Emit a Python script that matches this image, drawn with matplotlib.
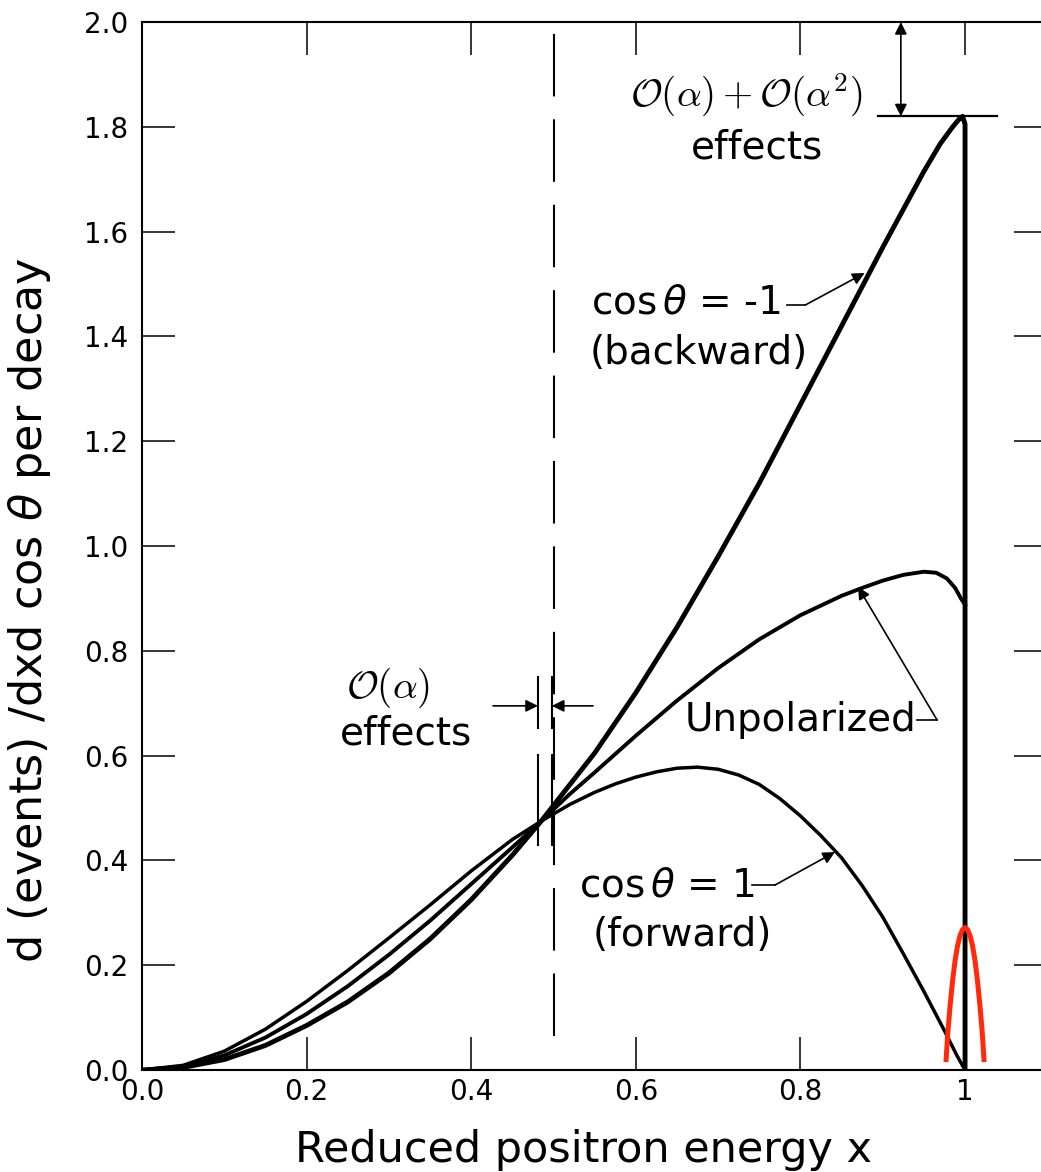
import matplotlib
matplotlib.use("Agg")
import matplotlib.pyplot as plt

# spectrum (x = reduced positron energy)
x_forward = [0.0, 0.05, 0.1, 0.15, 0.2, 0.25, 0.3, 0.35, 0.4, 0.45, 0.485, 0.52, 0.55, 0.575, 0.6,
             0.625, 0.65, 0.675, 0.7, 0.725, 0.75, 0.775, 0.8, 0.825, 0.85, 0.875, 0.9, 0.925, 0.95,
             0.975, 0.99, 1.0]
y_forward = [0.0, 0.009, 0.036, 0.078, 0.131, 0.19, 0.252, 0.315, 0.38, 0.44, 0.475, 0.507, 0.53, 0.546, 0.559,
             0.569, 0.576, 0.578, 0.574, 0.563, 0.545, 0.518, 0.485, 0.447, 0.405, 0.352, 0.292, 0.222, 0.15,
             0.075, 0.028, 0.0]

x_unpolarized = [0.0, 0.05, 0.1, 0.15, 0.2, 0.25, 0.3, 0.35, 0.4, 0.45, 0.485, 0.52, 0.55, 0.6,
                 0.65, 0.7, 0.75, 0.8, 0.85, 0.875, 0.9, 0.925, 0.95, 0.965, 0.978, 0.988, 0.995, 1.0]
y_unpolarized = [0.0, 0.007, 0.028, 0.062, 0.107, 0.16, 0.22, 0.285, 0.355, 0.425, 0.475, 0.527, 0.568, 0.638,
                 0.705, 0.767, 0.822, 0.868, 0.905, 0.92, 0.934, 0.945, 0.951, 0.949, 0.938, 0.92, 0.9, 0.888]

x_backward = [0.0, 0.05, 0.1, 0.15, 0.2, 0.25, 0.3, 0.35, 0.4, 0.45, 0.485, 0.52, 0.55, 0.6,
              0.65, 0.7, 0.75, 0.8, 0.85, 0.9, 0.95, 0.97, 0.985, 0.993, 0.997, 1.0, 1.0]
y_backward = [0.0, 0.005, 0.02, 0.047, 0.085, 0.13, 0.185, 0.25, 0.325, 0.41, 0.475, 0.545, 0.605, 0.72,
              0.845, 0.98, 1.12, 1.27, 1.42, 1.57, 1.715, 1.768, 1.8, 1.815, 1.82, 1.805, 0.0]

x_red = [0.977, 0.979, 0.982, 0.985, 0.988, 0.991, 0.994, 0.997, 1.0,
         1.003, 1.006, 1.009, 1.012, 1.015, 1.018, 1.021, 1.023]
y_red = [0.02, 0.07, 0.125, 0.172, 0.21, 0.238, 0.257, 0.268, 0.272,
         0.268, 0.257, 0.238, 0.21, 0.172, 0.125, 0.07, 0.02]

x_ticks = [0.0, 0.2, 0.4, 0.6, 0.8, 1.0]
x_tick_labels = ["0.0", "0.2", "0.4", "0.6", "0.8", "1"]
y_ticks = [0.0, 0.2, 0.4, 0.6, 0.8, 1.0, 1.2, 1.4, 1.6, 1.8, 2.0]
y_tick_labels = ["0.0", "0.2", "0.4", "0.6", "0.8", "1.0", "1.2", "1.4", "1.6", "1.8", "2.0"]

peak_value = 1.82
split_x = 0.5
alpha_edge = 0.481

fig = plt.figure(figsize=(10.41, 11.72), dpi=100)
ax = fig.add_axes([0.1364, 0.087, 0.8697, 0.8942])

ax.plot(x_backward, y_backward, color="black", linewidth=3.5, solid_capstyle="round", solid_joinstyle="round")
ax.plot(x_unpolarized, y_unpolarized, color="black", linewidth=2.8, solid_joinstyle="round")
ax.plot(x_forward, y_forward, color="black", linewidth=2.5, solid_joinstyle="round")
ax.plot(x_red, y_red, color="#ff2a0a", linewidth=3.6, zorder=5)

# dashed line at x = 1/2 and the O(alpha) markers
ax.plot([split_x, split_x], [0.065, 1.99], color="black", linewidth=1.5, linestyle=(0, (30, 11)))
for xv in [alpha_edge, split_x - 0.002]:
    ax.plot([xv, xv], [0.653, 0.750], color="black", linewidth=1.5)
    ax.plot([xv, xv], [0.429, 0.601], color="black", linewidth=1.5)

arrow = dict(arrowstyle="-|>", color="black", linewidth=1.2, mutation_scale=18, shrinkA=0, shrinkB=0)
ax.annotate("", xy=(alpha_edge, 0.695), xytext=(0.4265, 0.695), arrowprops=arrow)
ax.annotate("", xy=(0.498, 0.695), xytext=(0.548, 0.695), arrowprops=arrow)

# top of spectrum marker
ax.plot([0.894, 1.039], [peak_value, peak_value], color="black", linewidth=1.6)
ax.annotate("", xy=(0.922, 2.0), xytext=(0.922, peak_value),
            arrowprops=dict(arrowstyle="<|-|>", color="black", linewidth=1.2, mutation_scale=18, shrinkA=0, shrinkB=0))

fs = 28
ax.text(0.734, 1.859, r"$\mathcal{O}(\alpha)+\mathcal{O}(\alpha^2)$", fontsize=fs, ha="center", va="center",
        math_fontfamily="cm")
ax.text(0.747, 1.761, "effects", fontsize=fs, ha="center", va="center")
ax.text(0.299, 0.729, r"$\mathcal{O}(\alpha)$", fontsize=fs, ha="center", va="center", math_fontfamily="cm")
ax.text(0.321, 0.643, "effects", fontsize=fs, ha="center", va="center")

ax.text(0.661, 1.464, r"cos$\,\theta$ = -1", fontsize=fs, ha="center", va="center")
ax.text(0.676, 1.368, "(backward)", fontsize=fs, ha="center", va="center")
ax.plot([0.784, 0.806], [1.460, 1.460], color="black", linewidth=1.2)
ax.annotate("", xy=(0.878, 1.521), xytext=(0.806, 1.460), arrowprops=arrow)

ax.text(0.80, 0.668, "Unpolarized", fontsize=fs, ha="center", va="center")
ax.plot([0.942, 0.966], [0.668, 0.668], color="black", linewidth=1.2)
ax.annotate("", xy=(0.870, 0.922), xytext=(0.966, 0.668), arrowprops=arrow)

ax.text(0.638, 0.353, r"cos$\,\theta$ = 1", fontsize=fs, ha="center", va="center")
ax.text(0.656, 0.258, "(forward)", fontsize=fs, ha="center", va="center")
ax.plot([0.741, 0.769], [0.353, 0.353], color="black", linewidth=1.2)
ax.annotate("", xy=(0.842, 0.416), xytext=(0.769, 0.353), arrowprops=arrow)

ax.set_xlim(0, 1.1)
ax.set_ylim(0, 2.0)
ax.set_xticks(x_ticks)
ax.set_xticklabels(x_tick_labels)
ax.set_yticks(y_ticks)
ax.set_yticklabels(y_tick_labels)
ax.tick_params(axis="both", which="major", direction="in", length=24, width=1.1, labelsize=20,
               top=True, right=True)
ax.tick_params(axis="x", pad=6)
ax.tick_params(axis="y", pad=10)
for spine in ax.spines.values():
    spine.set_linewidth(1.5)

ax.text(0.488, -0.0763, "Reduced positron energy x", fontsize=31, ha="center", va="center",
        transform=ax.transAxes)
ax.text(-0.1237, 0.439, r"d (events) /dxd cos $\theta$ per decay", fontsize=32, ha="center", va="center",
        rotation=90, transform=ax.transAxes)

plt.savefig("out.png", dpi=100)
plt.close()
